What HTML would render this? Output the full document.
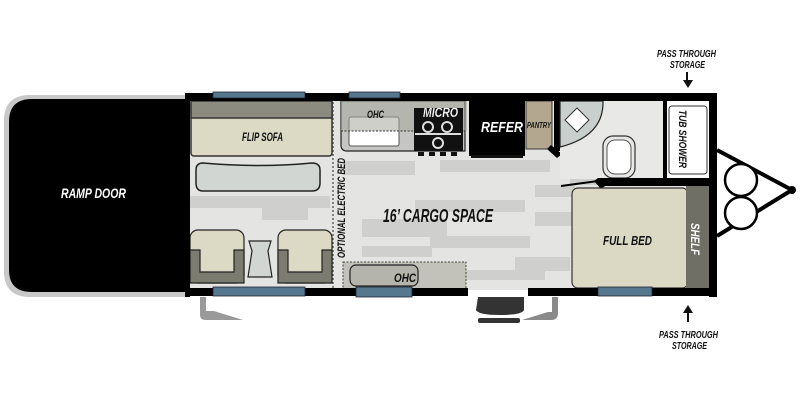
<!DOCTYPE html>
<html><head><meta charset="utf-8"><style>
html,body{margin:0;padding:0;background:#fff;width:800px;height:400px;overflow:hidden}
svg text{font-family:"Liberation Sans",sans-serif;font-weight:bold;font-style:italic}
</style></head><body>
<svg width="800" height="400" viewBox="0 0 800 400" xmlns="http://www.w3.org/2000/svg">
<!-- ramp door -->
<path d="M186 95 H30 Q4 95 4 121 V271 Q4 297 30 297 H186 Z" fill="#c8c8c8"/>
<path d="M186 99 H32 Q9 99 9 122 V270 Q9 292 32 292 H186 Z" fill="#000"/>
<text x="61" y="198" fill="#fff" font-size="14" textLength="65" lengthAdjust="spacingAndGlyphs">RAMP DOOR</text>
<!-- floor -->
<rect x="189" y="100" width="522" height="190" fill="#e4e4e2"/>
<g fill="#cfcfcd">
<rect x="190" y="196" width="140" height="12"/><rect x="262" y="207" width="46" height="13"/>
<rect x="345" y="161" width="70" height="14"/><rect x="440" y="160" width="110" height="12"/>
<rect x="415" y="200" width="110" height="12"/><rect x="362" y="219" width="85" height="18"/>
<rect x="430" y="236" width="100" height="12"/><rect x="362" y="246" width="70" height="11"/>
<rect x="535" y="185" width="40" height="12"/><rect x="535" y="212" width="40" height="14"/>
<rect x="515" y="257" width="55" height="14"/><rect x="445" y="270" width="100" height="10"/>
<rect x="625" y="118" width="35" height="12"/><rect x="570" y="175" width="40" height="10"/>
</g>
<!-- sofa -->
<rect x="191" y="101" width="141" height="55" rx="3" fill="#dcd9c4" stroke="#333" stroke-width="1.5"/>
<rect x="191" y="101" width="141" height="17" fill="#8b8b80" stroke="#333" stroke-width="1.5"/>
<text x="242" y="141" font-size="12" textLength="41" lengthAdjust="spacingAndGlyphs" fill="#111">FLIP SOFA</text>
<path d="M196 170 Q196 163 203 163 Q260 168 312 163 Q320 163 320 170 V183 Q320 191 312 191 H203 Q196 191 196 183 Z" fill="#d2d6d3" stroke="#222" stroke-width="1.5"/>
<!-- chairs -->
<g stroke="#222" stroke-width="1.2">
<rect x="190" y="230" width="54" height="53" rx="8" fill="#dcd9c4"/>
<path d="M190 250 h10 v22 h34 v-22 h10 v33 h-54z" fill="#7b7b70"/>
<rect x="278" y="230" width="54" height="53" rx="8" fill="#dcd9c4"/>
<path d="M278 250 h10 v22 h34 v-22 h10 v33 h-54z" fill="#7b7b70"/>
<path d="M249 241 h22 l-3 10 4 26 h-24 l4 -26z" fill="#d2d6d3"/>
</g>
<line x1="333" y1="102" x2="333" y2="289" stroke="#444" stroke-width="1.2" stroke-dasharray="2,2"/>
<text transform="translate(345,258) rotate(-90)" font-size="11" textLength="100" lengthAdjust="spacingAndGlyphs" fill="#111">OPTIONAL ELECTRIC BED</text>
<!-- kitchen -->
<path d="M341 101 H465 V151 H347 Q341 151 341 145 Z" fill="#c5c6c3" stroke="#222" stroke-width="1.2"/>
<rect x="349" y="117" width="50" height="29" rx="2" fill="#fff" stroke="#555"/>
<rect x="341" y="101" width="126" height="30" fill="#a8a89f" opacity="0.55"/>
<line x1="341" y1="131" x2="467" y2="131" stroke="#333" stroke-dasharray="2,1.5"/>
<text x="367" y="118" font-size="11" textLength="17" lengthAdjust="spacingAndGlyphs" fill="#111">OHC</text>
<rect x="414" y="108" width="49" height="43" fill="#111"/>
<circle cx="428" cy="127" r="5" fill="none" stroke="#ddd" stroke-width="2"/><circle cx="447" cy="127" r="5" fill="none" stroke="#ddd" stroke-width="2"/>
<circle cx="438" cy="143" r="5" fill="none" stroke="#ddd" stroke-width="2"/>
<rect x="415" y="133" width="46" height="2" fill="#ddd"/>
<rect x="418" y="152" width="6" height="4" fill="#111"/><rect x="429" y="152" width="6" height="4" fill="#111"/><rect x="440" y="152" width="6" height="4" fill="#111"/><rect x="451" y="152" width="6" height="4" fill="#111"/>
<text x="423" y="117" font-size="14" textLength="35" lengthAdjust="spacingAndGlyphs" fill="#fff" stroke="#555" stroke-width="0.3">MICRO</text>
<rect x="469" y="101" width="56" height="55" fill="#000"/>
<rect x="471" y="155" width="52" height="3" fill="#111"/>
<text x="481" y="132" font-size="15" textLength="42" lengthAdjust="spacingAndGlyphs" fill="#fff">REFER</text>
<rect x="526" y="101" width="26" height="48" fill="#b4a78f" stroke="#333"/>
<text x="527" y="128" font-size="8" textLength="24" lengthAdjust="spacingAndGlyphs" fill="#111">PANTRY</text>
<rect x="554" y="101" width="6" height="50" fill="#000"/>
<path d="M551 145 L562 154 L557 158 L547 149Z" fill="#000"/>
<!-- bathroom -->
<rect x="560" y="101" width="104" height="78" fill="#e8e8e6"/>
<path d="M560 101 H603 Q604 136 560 147 Z" fill="#c9cfcd" stroke="#222" stroke-width="1.2"/>
<path d="M565 120 L577 108 L589 120 L577 132Z" fill="#fff" stroke="#333"/>
<rect x="603" y="136" width="32" height="42" rx="10" fill="#e8e8e6" stroke="#333" stroke-width="1.2"/>
<rect x="607" y="140" width="24" height="34" rx="8" fill="#fff" stroke="#555"/>
<rect x="663" y="101" width="4" height="78" fill="#000"/>
<rect x="667" y="101" width="42" height="78" fill="#fff"/>
<rect x="669" y="106" width="38" height="68" rx="3" fill="#fff" stroke="#333"/>
<text transform="translate(679,110) rotate(90)" font-size="11" textLength="58" lengthAdjust="spacingAndGlyphs" fill="#111">TUB SHOWER</text>
<rect x="598" y="178" width="119" height="8" fill="#000"/>
<path d="M598 178 L605 186 L601 189 L594 181Z" fill="#000"/>
<line x1="561" y1="186" x2="598" y2="181" stroke="#000" stroke-width="2"/>
<!-- bed -->
<rect x="572" y="188" width="116" height="100" rx="6" fill="#dbd8c4" stroke="#333" stroke-width="1.2"/>
<rect x="686" y="186" width="23" height="102" fill="#6f6f65"/>
<text x="603" y="245" font-size="13" textLength="49" lengthAdjust="spacingAndGlyphs" fill="#111">FULL BED</text>
<text transform="translate(691,223) rotate(90)" font-size="12" textLength="32" lengthAdjust="spacingAndGlyphs" fill="#fff">SHELF</text>
<!-- bottom OHC -->
<rect x="343" y="262" width="123" height="28" fill="#c2c2bb" stroke="#444" stroke-dasharray="2,1.5"/>
<rect x="350" y="265" width="68" height="21" rx="6" fill="#b4b4ac" stroke="#222" stroke-width="1.2"/>
<text x="394" y="282" font-size="12" textLength="22" lengthAdjust="spacingAndGlyphs" fill="#111">OHC</text>
<!-- walls -->
<rect x="185" y="93" width="532" height="8" fill="#000"/>
<rect x="185" y="93" width="5" height="204" fill="#000"/>
<rect x="709" y="93" width="8" height="204" fill="#000"/>
<rect x="185" y="288" width="283" height="8" fill="#000"/>
<rect x="528" y="288" width="189" height="8" fill="#000"/>
<!-- windows -->
<g fill="#55788e" stroke="#223" stroke-width="0.8">
<rect x="213" y="92" width="92" height="6"/><rect x="349" y="92" width="51" height="6"/>
<rect x="213" y="287" width="92" height="9"/><rect x="356" y="287" width="56" height="10"/>
<rect x="598" y="287" width="54" height="9"/>
</g>
<!-- steps -->
<path d="M200 297 V315 Q200 320 206 320 H243 L214 311 H206 V297Z" fill="#9a9a9a"/>
<path d="M478 297 H524 V310 Q522 315 500 315 Q478 315 476 310Z" fill="#333"/>
<rect x="478" y="318" width="42" height="5" rx="2" fill="#333"/>
<path d="M558 297 V313 Q558 320 551 320 H522 L548 312 H552 V297Z" fill="#8a8a8a"/>
<!-- tongue -->
<polyline points="717,150 792,190 717,236" fill="none" stroke="#000" stroke-width="4"/>
<circle cx="792" cy="190" r="4" fill="#000"/>
<circle cx="741" cy="180" r="16" fill="#fff" stroke="#000" stroke-width="2.5"/>
<circle cx="741" cy="213" r="16" fill="#fff" stroke="#000" stroke-width="2.5"/>
<!-- labels -->
<text x="657" y="57" font-size="10" textLength="59" lengthAdjust="spacingAndGlyphs" fill="#111">PASS THROUGH</text>
<text x="670" y="68" font-size="10" textLength="35" lengthAdjust="spacingAndGlyphs" fill="#111">STORAGE</text>
<rect x="686" y="72" width="2" height="10" fill="#111"/><path d="M683 80 L693 80 L688 88Z" fill="#111"/>
<path d="M683 313 L693 313 L688 305Z" fill="#111"/><rect x="687" y="312" width="2" height="10" fill="#111"/>
<text x="659" y="338" font-size="10" textLength="59" lengthAdjust="spacingAndGlyphs" fill="#111">PASS THROUGH</text>
<text x="672" y="349" font-size="10" textLength="35" lengthAdjust="spacingAndGlyphs" fill="#111">STORAGE</text>
<text x="383" y="222" font-size="18" textLength="110" lengthAdjust="spacingAndGlyphs" fill="#111">16’ CARGO SPACE</text>
</svg>
</body></html>
